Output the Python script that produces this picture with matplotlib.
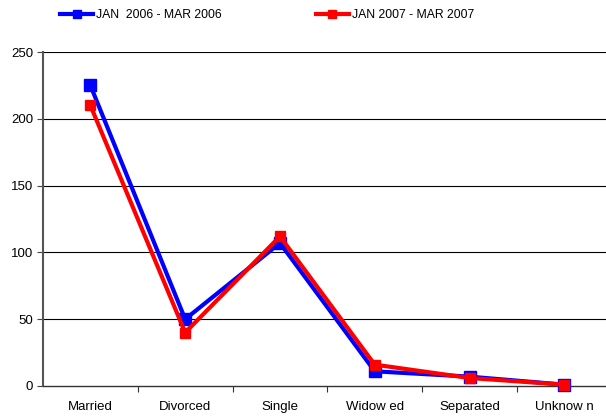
import matplotlib
matplotlib.use("Agg")
import matplotlib.pyplot as plt
from matplotlib.lines import Line2D

plt.rcParams['font.family'] = ['Liberation Sans', 'DejaVu Sans']

categories = ["Married", "Divorced", "Single", "Widow ed", "Separated", "Unknow n"]
series_2006 = [225, 50, 107, 11, 7, 1]
series_2007 = [210, 40, 112, 16, 6, 1]
label_2006 = "JAN  2006 - MAR 2006"
label_2007 = "JAN 2007 - MAR 2007"
y_ticks = [0, 50, 100, 150, 200, 250]

fig = plt.figure(figsize=(6.06, 4.18), dpi=100)
ax = fig.add_axes([43 / 606, 1 - 386 / 418, (606 - 43) / 606, (386 - 52) / 418])

x = list(range(len(categories)))
ax.plot(x, series_2006, color="#0000FF", lw=3, marker="s", ms=8,
        mec="#0000FF", mfc="#0000FF", zorder=3, clip_on=False)
ax.plot(x, series_2007, color="#FF0000", lw=3, marker="s", ms=7,
        mec="#FF0000", mfc="#FF0000", zorder=4, clip_on=False)

ax.set_ylim(0, 250)
ax.set_xlim(-0.5, 5.44)
ax.set_yticks(y_ticks)
ax.set_yticklabels([str(v) for v in y_ticks], fontsize=9.5)
for v in y_ticks[1:]:
    ax.axhline(v, color="black", lw=0.8, zorder=1)

ax.set_xticks(x)
ax.set_xticklabels(categories, fontsize=9.5)
ax.set_xticks([i + 0.5 for i in range(len(categories) - 1)], minor=True)
ax.tick_params(axis="x", which="major", length=0, pad=11)
ax.tick_params(axis="x", which="minor", length=4, color="#333333", width=0.8)
ax.tick_params(axis="y", length=4, color="#444444", width=0.8, pad=3)

for side in ["top", "right"]:
    ax.spines[side].set_visible(False)
ax.spines["left"].set_color("#555555")
ax.spines["left"].set_linewidth(1.5)
ax.spines["bottom"].set_color("#333333")
ax.spines["bottom"].set_linewidth(1.0)

handles = [
    Line2D([], [], color="#0000FF", lw=3, marker="s", ms=6),
    Line2D([], [], color="#FF0000", lw=3, marker="s", ms=6),
]
fig.legend(handles, [label_2006, label_2007], loc="center left", ncol=2,
           bbox_to_anchor=(60 / 606, 1 - 15 / 418), frameon=False, fontsize=8.8,
           borderpad=0, borderaxespad=0,
           handlelength=2.7, handletextpad=0.25, columnspacing=7.7)

fig.savefig("out.png", dpi=100)
